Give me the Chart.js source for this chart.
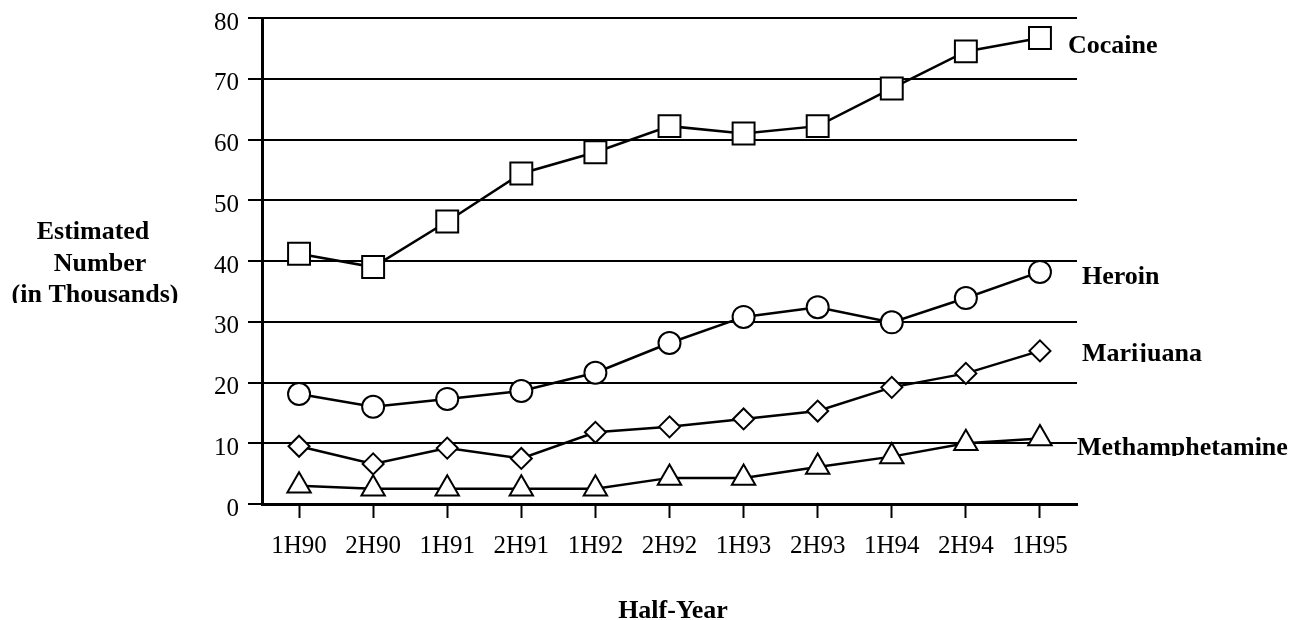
<!DOCTYPE html>
<html>
<head>
<meta charset="utf-8">
<script src="https://cdn.jsdelivr.net/npm/chart.js@4/dist/chart.umd.min.js"></script>
<style>
  html, body { margin: 0; padding: 0; background: #fff; }
  #wrap { width: 1302px; height: 620px; }
</style>
</head>
<body>
<div id="wrap"><canvas id="lineChart"></canvas></div>
<script>
// half-year periods
const periods = ["1H90","2H90","1H91","2H91","1H92","2H92","1H93","2H93","1H94","2H94","1H95"];

// estimated number (thousands)
const cocaine = [41.2, 39.0, 46.5, 54.4, 57.9, 62.2, 61.0, 62.2, 68.4, 74.5, 76.7];
const heroin = [18.1, 16.0, 17.3, 18.6, 21.6, 26.5, 30.8, 32.4, 29.9, 33.9, 38.2];
const marijuana = [9.5, 6.6, 9.2, 7.5, 11.8, 12.7, 14.0, 15.3, 19.2, 21.5, 25.2];
const meth = [3.0, 2.5, 2.5, 2.5, 2.5, 4.3, 4.3, 6.1, 7.8, 10.0, 10.8];

const yTicks = [0, 10, 20, 30, 40, 50, 60, 70, 80];

const serif = "'Liberation Serif', 'Times New Roman', serif";

function series(label, data, style, radius) {
    return {
        label: label,
        data: data,
        borderColor: "#000",
        borderWidth: 2.5,
        pointStyle: style,
        pointRadius: radius,
        pointHoverRadius: radius,
        pointBackgroundColor: "#fff",
        pointBorderColor: "#000",
        pointBorderWidth: 2,
        tension: 0,
        clip: false,
    };
}

// text that sits outside the plot: axis titles and series names
const textPlugin = {
    id: "chartText",
    afterDraw(chart) {
        const ctx = chart.ctx;
        ctx.save();
        ctx.fillStyle = "#000";
        ctx.font = "bold 26px " + serif;
        ctx.textBaseline = "alphabetic";

        ctx.textAlign = "center";
        ctx.fillText("Estimated", 93, 239);
        ctx.fillText("Number", 100, 271);
        ctx.save();
        ctx.beginPath();
        ctx.rect(0, 0, 240, 303);
        ctx.clip();
        ctx.fillText("(in Thousands)", 95, 302);
        ctx.restore();

        ctx.fillText("Half-Year", 673, 618);

        ctx.textAlign = "left";
        ctx.fillText("Cocaine", 1068, 53);
        ctx.fillText("Heroin", 1082, 284);
        ctx.save();
        ctx.beginPath();
        ctx.rect(1070, 0, 232, 362);
        ctx.clip();
        ctx.fillText("Marijuana", 1082, 361);
        ctx.restore();
        ctx.save();
        ctx.beginPath();
        ctx.rect(1070, 400, 232, 56);
        ctx.clip();
        ctx.fillText("Methamphetamine", 1077, 455);
        ctx.restore();
        ctx.restore();
    }
};

function createLineChart() {
    const ctx = document.getElementById("lineChart").getContext("2d");
    new Chart(ctx, {
        type: "line",
        data: {
            labels: periods,
            datasets: [
                series("Cocaine", cocaine, "rect", 15.5),
                series("Heroin", heroin, "circle", 11),
                series("Marijuana", marijuana, "rectRot", 10.5),
                series("Methamphetamine", meth, "triangle", 13.5),
            ],
        },
        options: {
            responsive: true,
            maintainAspectRatio: false,
            animation: false,
            layout: {
                padding: { top: 18, right: 225, bottom: 0, left: 0 },
            },
            scales: {
                x: {
                    offset: true,
                    afterFit(scale) {
                        scale.height = 116;
                        scale.paddingLeft = 0;
                        scale.paddingRight = 0;
                    },
                    grid: {
                        offset: false,
                        drawOnChartArea: false,
                        drawTicks: true,
                        tickLength: 14,
                        tickColor: "#000",
                        tickWidth: 2,
                    },
                    border: { display: true, color: "#000", width: 3 },
                    ticks: {
                        color: "#000",
                        padding: 13,
                        maxRotation: 0,
                        autoSkip: false,
                        font: { family: serif, size: 25 },
                    },
                },
                y: {
                    min: 0,
                    max: 80,
                    afterFit(scale) {
                        scale.width = 262;
                        scale.paddingTop = 0;
                        scale.paddingBottom = 0;
                    },
                    afterBuildTicks(scale) {
                        scale.ticks = yTicks.map(v => ({ value: v }));
                    },
                    grid: {
                        color: "#000",
                        lineWidth: 2,
                        drawTicks: true,
                        tickLength: 14,
                        tickColor: "#000",
                        tickWidth: 2,
                    },
                    border: { display: true, color: "#000", width: 3 },
                    ticks: {
                        color: "#000",
                        padding: 9,
                        labelOffset: 5,
                        font: { family: serif, size: 25 },
                    },
                },
            },
            plugins: {
                legend: { display: false },
                tooltip: { enabled: false },
            },
        },
        plugins: [textPlugin],
    });
}

window.addEventListener("load", createLineChart);
</script>
</body>
</html>
